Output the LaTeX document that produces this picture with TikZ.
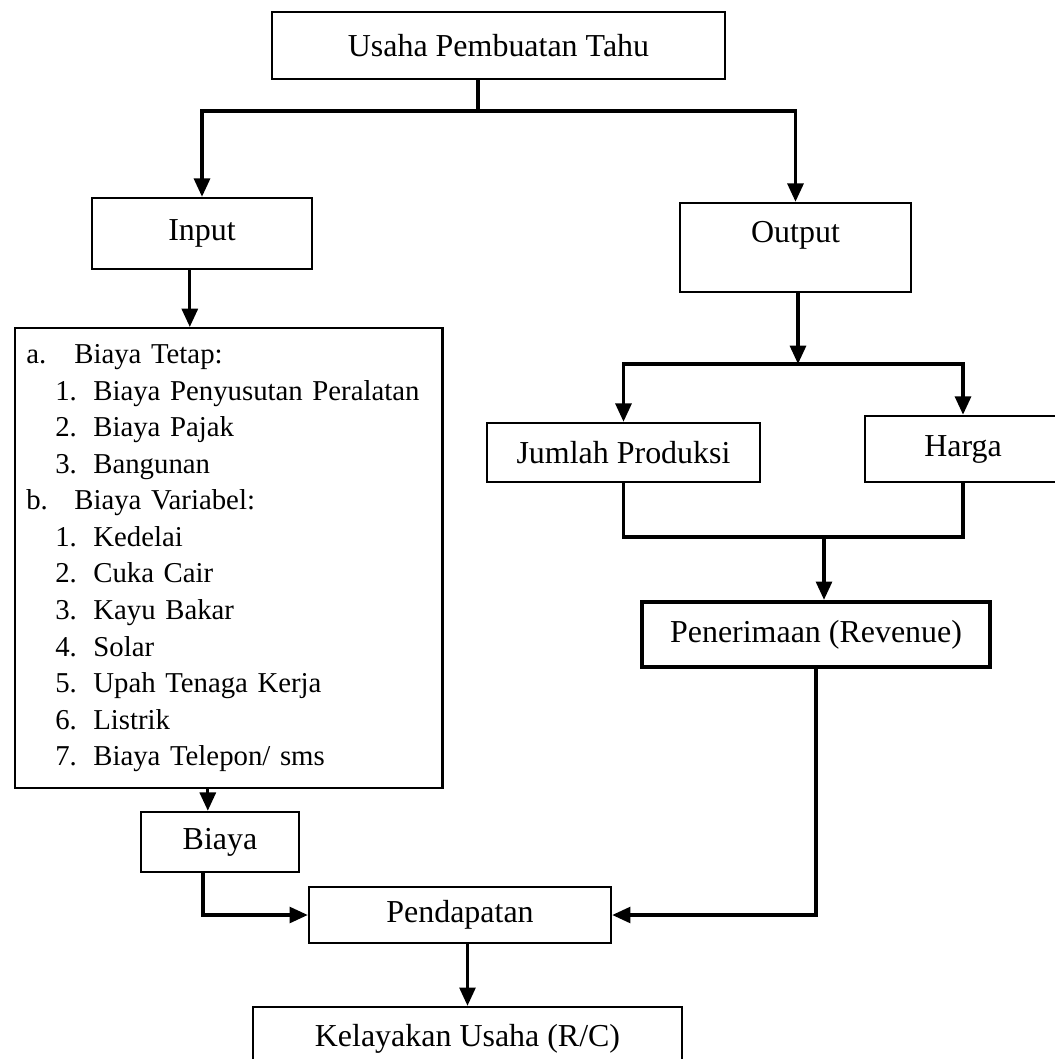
\documentclass[tikz,border=0pt]{standalone}
\usepackage{fontspec}
\setmainfont{Liberation Serif}
\usetikzlibrary{arrows.meta}

\newcommand{\letitem}[2]{\makebox[19.7pt][l]{#1}#2}
\newcommand{\numitem}[2]{\hspace*{11.9pt}\makebox[15.6pt][l]{#1}#2}

\begin{document}
\begin{tikzpicture}[
  x=0.41pt, y=-0.41pt,
  font=\fontsize{13.1}{15.6}\selectfont,
  box/.style={rectangle, draw, line width=1pt, align=center, inner sep=0pt},
  link/.style={line width=1.35pt},
  arrow/.style={-{Triangle[length=7.5pt,width=6.5pt]}, line width=1.35pt}
]
\useasboundingbox (0,0) rectangle (1054,1059);
% top of the chart
\node[box, minimum width=185.7pt, minimum height=27.5pt] (usaha) at (498.5,45.5) {Usaha Pembuatan Tahu};
\node[box, minimum width=90.2pt, minimum height=29.1pt] (input) at (202,233.5) {Input};
\node[box, minimum width=94.7pt, minimum height=36.5pt, text height=8.5pt, text depth=12.5pt] (output) at (795.5,247.5) {Output};
% cost side
\node[box, anchor=north west, minimum width=175.1pt, minimum height=188.6pt,
  text width=166pt, inner xsep=4.5pt, align=left,
  font=\fontsize{11.8}{15}\selectfont] (rincian) at (14,327) {%
  \letitem{a.}{Biaya Tetap:}\\
  \numitem{1.}{Biaya Penyusutan Peralatan}\\
  \numitem{2.}{Biaya Pajak}\\
  \numitem{3.}{Bangunan}\\
  \letitem{b.}{Biaya Variabel:}\\
  \numitem{1.}{Kedelai}\\
  \numitem{2.}{Cuka Cair}\\
  \numitem{3.}{Kayu Bakar}\\
  \numitem{4.}{Solar}\\
  \numitem{5.}{Upah Tenaga Kerja}\\
  \numitem{6.}{Listrik}\\
  \numitem{7.}{Biaya Telepon/ sms}};
\node[box, minimum width=64.8pt, minimum height=24.6pt] (biaya) at (220,842) {Biaya};
% revenue side
\node[box, minimum width=111.9pt, minimum height=24.2pt] (jumlah) at (623.5,452.5) {Jumlah Produksi};
\node[box, minimum width=80.4pt, minimum height=27.1pt] (harga) at (963,449) {Harga};
\node[box, line width=1.7pt, minimum width=142.7pt, minimum height=26.7pt] (revenue) at (816,634.5) {Penerimaan (Revenue)};
% bottom
\node[box, minimum width=123.8pt, minimum height=23pt] (pendapatan) at (460,915) {Pendapatan};
\node[box, minimum width=175.9pt, minimum height=26.2pt] (layak) at (467.5,1039) {Kelayakan Usaha (R/C)};
% junctions
\coordinate (cabang) at (478,111);
\coordinate (cabangout) at (798,364);
\coordinate (gabung) at (824,537);
\draw[link] (usaha.south -| cabang) -- (cabang);
\draw[arrow] (cabang) -| (input.north);
\draw[arrow] (cabang) -| (output.north);
\draw[arrow] ([xshift=-5pt]input.south) -- ([xshift=-5pt]input.south |- rincian.north);
\draw[arrow] ([xshift=-5pt]biaya.north |- rincian.south) -- ([xshift=-5pt]biaya.north);
\draw[arrow] (output.south -| cabangout) -- (cabangout);
\draw[arrow] (cabangout) -| (jumlah.north);
\draw[arrow] (cabangout) -| (harga.north);
\draw[link] (jumlah.south) |- (gabung) -| (harga.south);
\draw[arrow] (gabung) -- (gabung |- revenue.north);
\draw[arrow] ([xshift=-7pt]biaya.south) |- (pendapatan.west);
\draw[arrow] (revenue.south) |- (pendapatan.east);
\draw[arrow] (pendapatan.south -| layak.north) -- (layak.north);
\end{tikzpicture}
\end{document}
